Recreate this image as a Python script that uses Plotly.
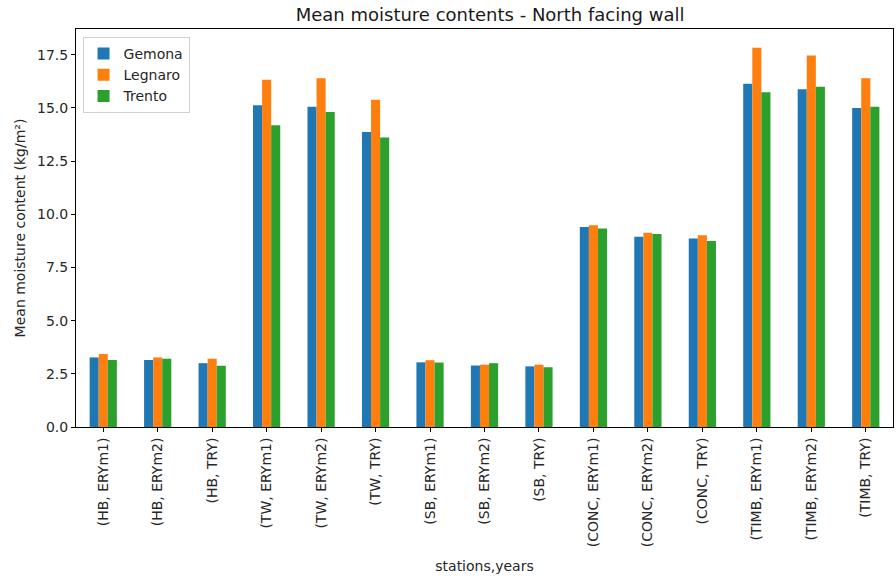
import plotly.graph_objects as go

# Station / weather-year combinations on the category axis
categories = [
    "(HB, ERYm1)", "(HB, ERYm2)", "(HB, TRY)",
    "(TW, ERYm1)", "(TW, ERYm2)", "(TW, TRY)",
    "(SB, ERYm1)", "(SB, ERYm2)", "(SB, TRY)",
    "(CONC, ERYm1)", "(CONC, ERYm2)", "(CONC, TRY)",
    "(TIMB, ERYm1)", "(TIMB, ERYm2)", "(TIMB, TRY)",
]

# Mean moisture content (kg/m²) per location
gemona = [3.27, 3.15, 3.00, 15.13, 15.06, 13.87, 3.04, 2.89, 2.85,
          9.40, 8.94, 8.86, 16.14, 15.88, 15.00]
legnaro = [3.43, 3.27, 3.21, 16.33, 16.39, 15.38, 3.14, 2.93, 2.93,
           9.49, 9.13, 9.02, 17.83, 17.47, 16.39]
trento = [3.15, 3.21, 2.88, 14.19, 14.81, 13.61, 3.03, 3.00, 2.81,
          9.33, 9.07, 8.74, 15.74, 16.00, 15.06]

series = [("Gemona", gemona, "#1f77b4"),
          ("Legnaro", legnaro, "#ff7f0e"),
          ("Trento", trento, "#2ca02c")]

y_ticks = [0.0, 2.5, 5.0, 7.5, 10.0, 12.5, 15.0, 17.5]

FONT = "DejaVu Sans"

fig = go.Figure()
for name, vals, color in series:
    fig.add_trace(go.Bar(x=categories, y=vals, name=name,
                         marker=dict(color=color, line=dict(width=0))))

fig.update_layout(
    width=896, height=581,
    barmode="group", bargap=0.5, bargroupgap=0.0,
    plot_bgcolor="white", paper_bgcolor="white",
    margin=dict(l=76, r=3, t=29, b=154),
    font=dict(family=FONT, size=14, color="#262626"),
    title=dict(text="Mean moisture contents - North facing wall",
               x=0.547, xanchor="center", y=0.975, yanchor="middle",
               font=dict(family=FONT, size=18, color="#1a1a1a")),
    legend=dict(x=0.008, y=0.98, xanchor="left", yanchor="top",
                bgcolor="rgba(255,255,255,0.8)", bordercolor="#d0d0d0",
                borderwidth=1, font=dict(size=14), tracegroupgap=0,
                itemwidth=30),
    showlegend=True,
)

fig.update_xaxes(
    type="category", range=[-0.5, 14.5],
    tickangle=-90, ticks="outside", ticklen=4, tickcolor="black",
    showline=True, linecolor="black", linewidth=1, mirror=True,
    showgrid=False, tickfont=dict(size=14),
    title=dict(text="stations,years", font=dict(size=14), standoff=14),
)
fig.update_yaxes(
    range=[0, 18.71], tickvals=y_ticks,
    ticktext=[f"{v:.1f}" for v in y_ticks],
    ticks="outside", ticklen=4, tickcolor="black",
    showline=True, linecolor="black", linewidth=1, mirror=True,
    showgrid=False, zeroline=False, tickfont=dict(size=14),
    title=dict(text="Mean moisture content (kg/m²)", font=dict(size=14),
               standoff=8),
)

fig.write_html("out.html")
